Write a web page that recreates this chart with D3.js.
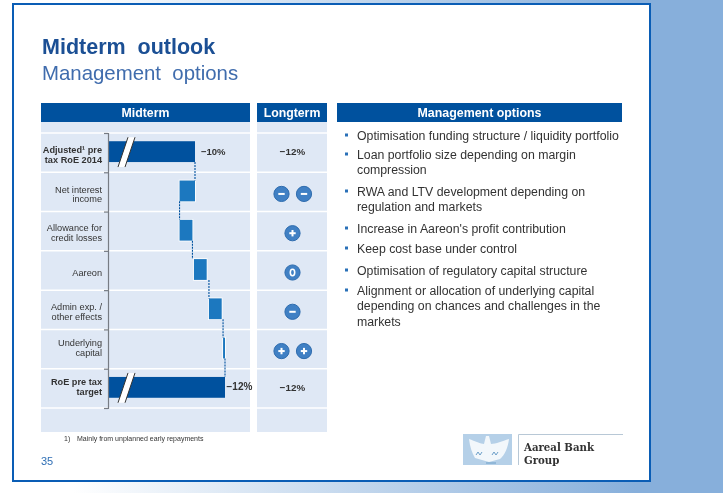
<!DOCTYPE html>
<html>
<head>
<meta charset="utf-8">
<script src="https://cdn.jsdelivr.net/npm/d3@7"></script>
<style>
    html, body { margin: 0; padding: 0; background: #fff; overflow: hidden; }
    svg { display: block; font-family: "Liberation Sans", Arial, sans-serif; }
</style>
</head>
<body>
<svg></svg>
<script>
(function () {
    'use strict';

    const width = 723;
    const height = 493;

    // row labels, one array per line
    const categories = ['adjusted', 'interest', 'allowance', 'aareon', 'admin', 'capital', 'target'];
    const categoryLines = [
        ['Adjusted¹ pre', 'tax RoE 2014'],
        ['Net interest', 'income'],
        ['Allowance for', 'credit losses'],
        ['Aareon'],
        ['Admin exp. /', 'other effects'],
        ['Underlying', 'capital'],
        ['RoE pre tax', 'target']
    ];
    const boldRows = ['adjusted', 'target'];

    // waterfall, in percentage points of RoE
    const barFrom = [4.2, 8.97, 8.97, 9.93, 10.93, 11.87, 4.2];
    const barTo = [10, 10, 9.83, 10.78, 11.78, 12, 12];
    const linkValues = [10, 8.97, 9.83, 10.93, 11.87, 12];
    const barLabels = ['−10%', '', '', '', '', '', '−12%'];

    const longterm = ['−12%', '−−', '+', '0', '−', '++', '−12%'];

    const bullets = [
        ['Optimisation funding structure / liquidity portfolio'],
        ['Loan portfolio size depending on margin', 'compression'],
        ['RWA and LTV development depending on', 'regulation and markets'],
        ['Increase in Aareon\'s profit contribution'],
        ['Keep cost base under control'],
        ['Optimisation of regulatory capital structure'],
        ['Alignment or allocation of underlying capital', 'depending on chances and challenges in the', 'markets']
    ];
    const bulletTops = [135, 154, 191, 228, 248, 270, 290];

    const dark = '#00519e';
    const mid = '#1f78bf';
    const panel = '#dfe8f5';
    const textColor = '#333';

    const x = d3.scaleLinear().domain([4.2, 12]).range([108, 225]);
    const y = d3.scaleBand().domain(categories).range([133, 408]).paddingInner(0.47).paddingOuter(0.235);
    const rowY = d3.scaleLinear().domain([0, 7]).range([133, 408]);

    const svg = d3.select('svg').attr('width', width).attr('height', height);

    const defs = svg.append('defs');
    const grad = defs.append('linearGradient').attr('id', 'bg');
    grad.append('stop').attr('offset', '10%').attr('stop-color', '#ffffff');
    grad.append('stop').attr('offset', '88%').attr('stop-color', '#87afdb');
    grad.append('stop').attr('offset', '100%').attr('stop-color', '#87afdb');
    defs.append('filter').attr('id', 'soft')
        .append('feGaussianBlur').attr('stdDeviation', 0.45);

    svg.append('rect').attr('width', width).attr('height', height).attr('fill', 'url(#bg)');

    // slide
    svg.append('rect')
        .attr('x', 13).attr('y', 4).attr('width', 637).attr('height', 477)
        .attr('fill', '#fff').attr('stroke', '#0a5db5').attr('stroke-width', 2);

    const page = svg.append('g').attr('filter', 'url(#soft)');

    page.append('text').attr('x', 42).attr('y', 54)
        .attr('font-size', 21.5).attr('font-weight', 'bold').attr('fill', '#1a4f94')
        .style('white-space', 'pre')
        .text('Midterm  outlook');
    page.append('text').attr('x', 42).attr('y', 79.5)
        .attr('font-size', 20.4).attr('fill', '#3f6cad')
        .style('white-space', 'pre')
        .text('Management  options');

    // panels and headers
    const columns = [
        { x0: 41, x1: 250, title: 'Midterm' },
        { x0: 257, x1: 327, title: 'Longterm' }
    ];
    columns.forEach(c => {
        page.append('rect').attr('x', c.x0).attr('y', 122).attr('width', c.x1 - c.x0).attr('height', 310).attr('fill', panel);
        page.append('rect').attr('x', c.x0).attr('y', 103).attr('width', c.x1 - c.x0).attr('height', 19).attr('fill', dark);
        page.append('text').attr('x', (c.x0 + c.x1) / 2).attr('y', 117)
            .attr('text-anchor', 'middle').attr('font-size', 12.3).attr('font-weight', 'bold').attr('fill', '#fff')
            .text(c.title);
        page.append('g').selectAll('line').data(d3.range(8)).join('line')
            .attr('x1', c.x0).attr('x2', c.x1)
            .attr('y1', d => rowY(d)).attr('y2', d => rowY(d))
            .attr('stroke', '#fff').attr('stroke-width', 1.5);
    });
    page.append('rect').attr('x', 337).attr('y', 103).attr('width', 285).attr('height', 19).attr('fill', dark);
    page.append('text').attr('x', 479.5).attr('y', 117)
        .attr('text-anchor', 'middle').attr('font-size', 12.4).attr('font-weight', 'bold').attr('fill', '#fff')
        .text('Management options');

    // bars
    const isTotal = i => i === 0 || i === categories.length - 1;
    page.append('g').selectAll('rect').data(categories).join('rect')
        .attr('x', (d, i) => x(barFrom[i]))
        .attr('y', d => y(d) - 1)
        .attr('width', (d, i) => x(barTo[i]) - x(barFrom[i]))
        .attr('height', y.bandwidth())
        .attr('fill', (d, i) => isTotal(i) ? dark : mid)
        .attr('stroke', (d, i) => isTotal(i) ? 'none' : '#fff')
        .attr('stroke-width', 1.6)
        .style('paint-order', 'stroke');

    // connectors
    page.append('g').selectAll('line').data(linkValues).join('line')
        .attr('x1', d => x(d)).attr('x2', d => x(d))
        .attr('y1', (d, i) => y(categories[i]) + y.bandwidth() - 1)
        .attr('y2', (d, i) => y(categories[i + 1]) - 1)
        .attr('stroke', dark).attr('stroke-width', 1.1).attr('stroke-dasharray', '2,1');

    // axis with ticks on the row borders
    const axis = page.append('g')
        .attr('transform', `translate(${x(4.2)},0)`)
        .call(d3.axisLeft(rowY).ticks(7).tickSize(4).tickFormat(''));
    axis.selectAll('path, line').attr('stroke', '#777c84').attr('stroke-width', 1.2);

    // axis break marks on the two total bars
    [categories[0], categories[6]].forEach(c => {
        const top = y(c) - 5;
        const bottom = y(c) + y.bandwidth() + 4;
        page.append('path')
            .attr('d', `M128,${top}L135,${top}L125,${bottom}L118,${bottom}Z`)
            .attr('fill', '#fff');
        [[128, 118], [135, 125]].forEach(p => {
            page.append('line')
                .attr('x1', p[0]).attr('y1', top).attr('x2', p[1]).attr('y2', bottom)
                .attr('stroke', '#333').attr('stroke-width', 1);
        });
    });

    // bar value labels
    page.append('g').selectAll('text').data(categories).join('text')
        .attr('x', (d, i) => x(barTo[i]) + (i === 0 ? 6 : 1.5))
        .attr('y', d => y(d) + y.bandwidth() / 2 + 2)
        .attr('font-size', (d, i) => i === 0 ? 9.5 : 10)
        .attr('font-weight', 'bold').attr('fill', textColor)
        .text((d, i) => barLabels[i]);

    // category labels, nudged per row as on the slide
    const labelNudge = [5, 5, 4, 5, 5, 1.5, 1.5];
    const labels = page.append('g').selectAll('text').data(categories).join('text')
        .attr('text-anchor', 'end')
        .attr('font-size', 9.2)
        .attr('font-weight', d => boldRows.includes(d) ? 'bold' : 'normal')
        .attr('fill', textColor);
    labels.each(function (d, i) {
        const lines = categoryLines[i];
        const top = y(d) + y.bandwidth() / 2 - (lines.length - 1) * 4.9 + 0.5 + labelNudge[i];
        d3.select(this).selectAll('tspan').data(lines).join('tspan')
            .attr('x', 102)
            .attr('y', (l, j) => top + j * 9.8)
            .text(l => l);
    });

    // longterm column
    const iconX = n => n === 2 ? [281.5, 304] : [292.5];
    categories.forEach((c, i) => {
        const cy = y(c) + y.bandwidth() / 2;
        const v = longterm[i];
        if (v.includes('%')) {
            page.append('text').attr('x', 292.5).attr('y', cy + 2.5)
                .attr('text-anchor', 'middle').attr('font-size', 9.8).attr('font-weight', 'bold').attr('fill', textColor)
                .text(v);
            return;
        }
        const signs = v.split('');
        signs.forEach((s, j) => {
            const icon = page.append('g')
                .attr('transform', `translate(${iconX(signs.length)[j]},${cy + 2})`);
            icon.append('circle').attr('r', 7.6).attr('fill', '#3f80c4').attr('stroke', '#2f6cae').attr('stroke-width', 1);
            if (s === '0') {
                icon.append('ellipse').attr('rx', 2.2).attr('ry', 3.2).attr('fill', 'none').attr('stroke', '#fff').attr('stroke-width', 1.6);
            } else {
                icon.append('rect').attr('x', -3.2).attr('y', -1).attr('width', 6.4).attr('height', 2).attr('fill', '#fff');
                if (s === '+') {
                    icon.append('rect').attr('x', -1).attr('y', -3.2).attr('width', 2).attr('height', 6.4).attr('fill', '#fff');
                }
            }
        });
    });

    // bullet list
    bullets.forEach((lines, i) => {
        page.append('rect').attr('x', 345).attr('y', bulletTops[i] - 1.5).attr('width', 3).attr('height', 3).attr('fill', '#2a70b8');
        lines.forEach((l, j) => {
            page.append('text').attr('x', 357).attr('y', bulletTops[i] + 4.5 + j * 15.6)
                .attr('font-size', 12.3).attr('fill', textColor)
                .text(l);
        });
    });

    // footnote and page number
    page.append('text').attr('x', 64).attr('y', 441).attr('font-size', 7).attr('fill', textColor).text('1)');
    page.append('text').attr('x', 77).attr('y', 441).attr('font-size', 7).attr('fill', textColor).text('Mainly from unplanned early repayments');
    page.append('text').attr('x', 41).attr('y', 465).attr('font-size', 11).attr('fill', '#2f6fb5').text('35');

    // logo
    const logo = page.append('g');
    logo.append('rect').attr('x', 463).attr('y', 434).attr('width', 49).attr('height', 31).attr('fill', '#b5d0e8');
    logo.append('path')
        .attr('d', 'M469,439 C475,441 481,444 484,444 L486,436 L489,436 L491,444 C496,444 502,441 509,439 C508,447 505,455 500,459 L489,462 L475,458 C472,453 470,447 469,439Z')
        .attr('fill', '#f2f7fb');
    logo.append('path')
        .attr('d', 'M476,455 l2,-3 l2,3 l2,-3 M492,455 l2,-3 l2,3 l2,-3 M486,463 h10')
        .attr('fill', 'none').attr('stroke', '#6b9ec8').attr('stroke-width', 1);
    logo.append('path')
        .attr('d', 'M518.5,465V434.5H623')
        .attr('fill', 'none').attr('stroke', '#b8c8d6').attr('stroke-width', 1);
    logo.append('text').attr('x', 524).attr('y', 451)
        .attr('font-family', '"DejaVu Serif", serif').attr('font-size', 10.2).attr('font-weight', 'bold').attr('fill', '#333')
        .text('Aareal Bank');
    logo.append('text').attr('x', 524).attr('y', 464)
        .attr('font-family', '"DejaVu Serif", serif').attr('font-size', 10.2).attr('font-weight', 'bold').attr('fill', '#333')
        .text('Group');
})();
</script>
</body>
</html>
